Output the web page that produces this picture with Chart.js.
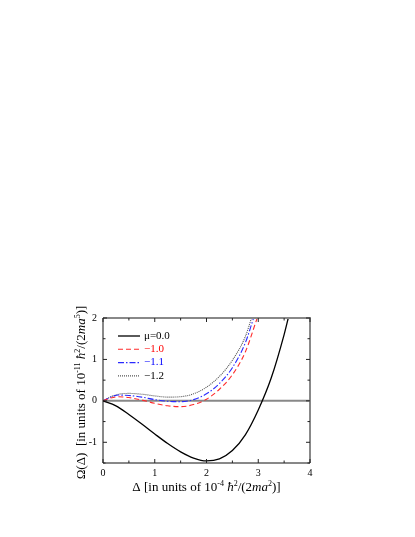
<!DOCTYPE html>
<html>
<head>
<meta charset="utf-8">
<script src="https://cdn.jsdelivr.net/npm/chart.js@4/dist/chart.umd.min.js"></script>
<style>
html, body { margin: 0; padding: 0; background: #fff; }
#wrap { width: 415px; height: 537px; }
</style>
</head>
<body>
<div id="wrap"><canvas id="myChart"></canvas></div>
<script>
const ctx = document.querySelector('#myChart')

// legend labels (mu values)
const legendLabels = ['μ=0.0', '−1.0', '−1.1', '−1.2']

// mu = 0.0
const delta0 = [0, 0.25, 0.5, 0.75, 1.0, 1.25, 1.5, 1.75, 2.0, 2.25, 2.5, 2.75, 3.0, 3.25, 3.5, 3.58]
const omega0 = [0, -0.12, -0.33, -0.56, -0.8, -1.03, -1.23, -1.38, -1.45, -1.4, -1.2, -0.82, -0.22, 0.55, 1.6, 2.0]
// mu = -1.0
const delta1 = [0, 0.15, 0.3, 0.5, 0.75, 1.0, 1.25, 1.5, 1.75, 2.0, 2.25, 2.5, 2.75, 2.98]
const omega1 = [0, 0.07, 0.1, 0.08, 0.02, -0.06, -0.12, -0.14, -0.09, 0.04, 0.28, 0.63, 1.18, 2.0]
// mu = -1.1
const delta2 = [0, 0.15, 0.3, 0.5, 0.75, 1.0, 1.25, 1.5, 1.75, 2.0, 2.25, 2.5, 2.75, 2.91]
const omega2 = [0, 0.09, 0.14, 0.13, 0.09, 0.03, -0.01, -0.02, 0.03, 0.17, 0.42, 0.8, 1.4, 2.0]
// mu = -1.2
const delta3 = [0, 0.15, 0.3, 0.5, 0.75, 1.0, 1.25, 1.5, 1.75, 2.0, 2.25, 2.5, 2.75, 2.87]
const omega3 = [0, 0.1, 0.16, 0.18, 0.16, 0.12, 0.09, 0.1, 0.17, 0.33, 0.59, 0.98, 1.55, 2.0]

const xTicks = [0, 1, 2, 3, 4]
const yTicks = [-1, 0, 1, 2]

// axis titles: [text, style] with style '' normal, 'i' italic, 's' superscript
const xTitle = [['Δ [in units of 10', ''], ['-4', 's'], [' ', ''], ['ħ', 'i'], ['2', 's'], ['/(2', ''], ['ma', 'i'], ['2', 's'], [')]', '']]
const yTitle = [['Ω(Δ)  [in units of 10', ''], ['-11', 's'], [' ', ''], ['ħ', 'i'], ['2', 's'], ['/(2', ''], ['ma', 'i'], ['5', 's'], [')]', '']]

const serif = '"Liberation Serif", "DejaVu Serif", serif'

const pts = (xs, ys) => xs.map((x, i) => ({ x: x, y: ys[i] }))

function drawRich(c, segs, x, y, size) {
    const fontFor = st => (st === 'i' ? 'italic ' : '') + (st === 's' ? Math.round(size * 0.65) : size) + 'px ' + serif
    let total = 0
    segs.forEach(s => { c.font = fontFor(s[1]); total += c.measureText(s[0]).width })
    let cx = x - total / 2
    c.textBaseline = 'alphabetic'
    c.textAlign = 'left'
    segs.forEach(s => {
        c.font = fontFor(s[1])
        c.fillText(s[0], cx, s[1] === 's' ? y - size * 0.4 : y)
        cx += c.measureText(s[0]).width
    })
}

const extras = {
    id: 'extras',
    beforeDatasetsDraw(chart) {
        const c = chart.ctx
        const a = chart.chartArea
        const y0 = chart.scales.y.getPixelForValue(0)
        c.save()
        c.strokeStyle = '#888'
        c.lineWidth = 2
        c.beginPath()
        c.moveTo(a.left, y0)
        c.lineTo(a.right, y0)
        c.stroke()
        c.restore()
    },
    afterDraw(chart) {
        const c = chart.ctx
        const a = chart.chartArea
        const sx = chart.scales.x
        const sy = chart.scales.y
        c.save()
        // frame
        c.lineWidth = 2
        c.strokeStyle = '#888'
        c.beginPath()
        c.moveTo(a.left, a.top); c.lineTo(a.right, a.top); c.lineTo(a.right, a.bottom)
        c.stroke()
        c.lineWidth = 1
        c.strokeStyle = '#111'
        c.beginPath()
        c.moveTo(a.left, a.top); c.lineTo(a.left, a.bottom); c.lineTo(a.right, a.bottom)
        c.stroke()
        // inward ticks
        c.lineWidth = 1
        c.strokeStyle = '#222'
        c.beginPath()
        for (let v = 0; v <= 4.001; v += 0.5) {
            const px = sx.getPixelForValue(v)
            const len = Number.isInteger(v) ? 4 : 2.5
            c.moveTo(px, a.bottom); c.lineTo(px, a.bottom - len)
            c.moveTo(px, a.top); c.lineTo(px, a.top + len)
        }
        for (let v = -1.5; v <= 2.001; v += 0.5) {
            const py = sy.getPixelForValue(v)
            const len = Number.isInteger(v) ? 4 : 2.5
            c.moveTo(a.left, py); c.lineTo(a.left + len, py)
            c.moveTo(a.right, py); c.lineTo(a.right - len, py)
        }
        c.stroke()
        // legend
        chart.data.datasets.forEach((ds, i) => {
            const ly = a.top + 18 + i * 13.3
            c.strokeStyle = ds.borderColor
            c.lineWidth = ds.borderWidth
            c.setLineDash(ds.borderDash || [])
            c.beginPath()
            c.moveTo(a.left + 15, ly)
            c.lineTo(a.left + 37, ly)
            c.stroke()
            c.setLineDash([])
            c.fillStyle = i === 1 ? '#ff0000' : (i === 2 ? '#0000ff' : '#000')
            c.font = '11px ' + serif
            c.textAlign = 'left'
            c.textBaseline = 'middle'
            c.fillText(ds.label, a.left + 41, ly)
        })
        // axis titles
        c.fillStyle = '#000'
        drawRich(c, xTitle, (a.left + a.right) / 2, 491, 13)
        c.translate(85, (a.top + a.bottom) / 2 + 2)
        c.rotate(-Math.PI / 2)
        drawRich(c, yTitle, 0, 0, 13)
        c.restore()
    }
}

const colors = ['#000000', '#ff2a2a', '#2a2aff', '#555555']
const dashes = [[], [5, 3], [6, 2, 1.5, 2], [1, 1]]
const series = [pts(delta0, omega0), pts(delta1, omega1), pts(delta2, omega2), pts(delta3, omega3)]

new Chart(ctx, {
    type: 'line',
    data: {
        datasets: series.map((d, i) => ({
            label: legendLabels[i],
            data: d,
            borderColor: colors[i],
            borderWidth: i === 0 ? 1.3 : 1.1,
            borderDash: dashes[i],
            pointRadius: 0,
            fill: false,
            cubicInterpolationMode: 'monotone'
        }))
    },
    options: {
        responsive: true,
        maintainAspectRatio: false,
        animation: false,
        layout: { padding: { top: 318, right: 105, left: 0, bottom: 0 } },
        plugins: { legend: { display: false }, tooltip: { enabled: false } },
        scales: {
            x: {
                type: 'linear', min: 0, max: 4,
                grid: { display: false, drawTicks: false, tickLength: 0 }, border: { display: false },
                afterBuildTicks: s => { s.ticks = xTicks.map(v => ({ value: v })) },
                afterFit: s => { s.height = 74 },
                ticks: { color: '#000', padding: 4, autoSkip: false, maxRotation: 0, font: { family: serif, size: 10 } }
            },
            y: {
                type: 'linear', min: -1.5, max: 2,
                grid: { display: false, drawTicks: false, tickLength: 0 }, border: { display: false },
                afterBuildTicks: s => { s.ticks = yTicks.map(v => ({ value: v })) },
                afterFit: s => { s.width = 103 },
                ticks: { color: '#000', padding: 6, autoSkip: false, font: { family: serif, size: 10 } }
            }
        }
    },
    plugins: [extras]
})
</script>
</body>
</html>
